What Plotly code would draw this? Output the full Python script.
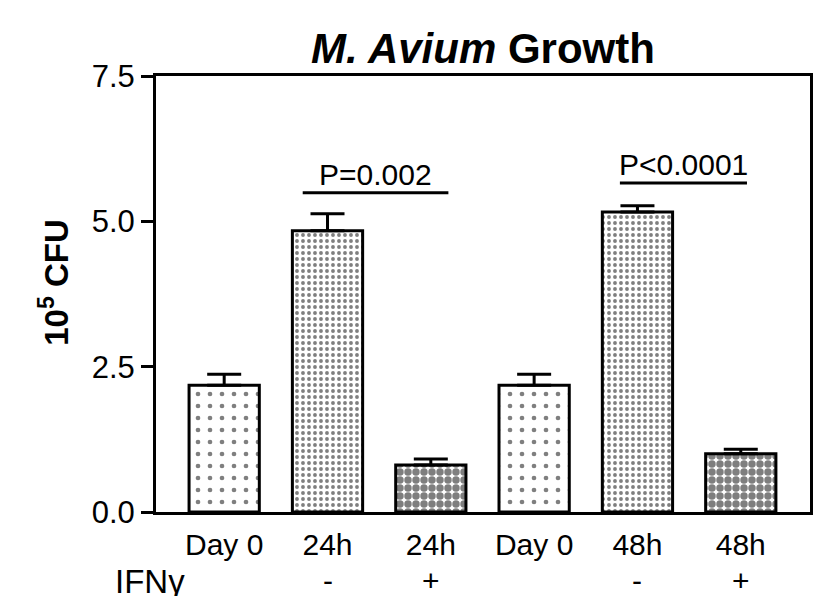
import plotly.graph_objects as go

# ---- data ----
x_pos = [0, 1, 2, 3, 4, 5]
tick_labels = ["Day 0", "24h", "24h", "Day 0", "48h", "48h"]
ifn_labels = ["", "-", "+", "", "-", "+"]
means = [2.18, 4.84, 0.81, 2.18, 5.16, 1.00]
sem = [0.19, 0.29, 0.10, 0.19, 0.11, 0.08]

sig_x0 = [0.76, 3.83]
sig_x1 = [2.17, 5.06]
sig_y = [5.49, 5.66]
sig_text = ["P=0.002", "P<0.0001"]

y_ticks = [0.0, 2.5, 5.0, 7.5]

FONT = "Arial, Liberation Sans, sans-serif"

pattern_shape = [".", ".", ".", ".", ".", "."]
pattern_size = [12, 6, 8, 12, 6, 8]
pattern_solid = [0.12, 0.32, 0.68, 0.12, 0.32, 0.68]

fig = go.Figure()
fig.add_trace(go.Bar(
    x=x_pos, y=means, width=0.68,
    marker=dict(color="white", line=dict(color="black", width=3),
                pattern=dict(shape=pattern_shape, size=pattern_size,
                             solidity=pattern_solid, fgcolor="black",
                             bgcolor="white")),
    error_y=dict(type="data", symmetric=False, array=sem,
                 arrayminus=[0] * len(sem), color="black",
                 thickness=3, width=17),
    showlegend=False, hoverinfo="skip",
))

shapes = []
annotations = []
for x0, x1, yv, t in zip(sig_x0, sig_x1, sig_y, sig_text):
    shapes.append(dict(type="line", xref="x", yref="y", x0=x0, x1=x1,
                       y0=yv, y1=yv, line=dict(color="black", width=3)))
    annotations.append(dict(x=(x0 + x1) / 2, y=yv, xref="x", yref="y",
                            text=t, showarrow=False, yanchor="bottom", yshift=0,
                            font=dict(family=FONT, size=30, color="black")))

for xv, t in zip(x_pos, ifn_labels):
    if t:
        annotations.append(dict(x=xv, y=-0.158, xref="x", yref="paper",
                                text=t, showarrow=False, yanchor="middle",
                                font=dict(family=FONT, size=30, color="black")))

annotations.append(dict(x=-0.066, y=-0.16, xref="paper", yref="paper",
                        text="IFNγ", showarrow=False, yanchor="middle",
                        font=dict(family=FONT, size=33, color="black")))

annotations.append(dict(x=-0.156, y=0.528, xref="paper", yref="paper",
                        text="<b>10<sup>5</sup> CFU</b>", showarrow=False,
                        textangle=-90, xanchor="center", yanchor="middle",
                        font=dict(family=FONT, size=33, color="black")))

fig.update_layout(
    width=839, height=596,
    margin=dict(l=156, r=29, t=76, b=84, autoexpand=False),
    paper_bgcolor="white", plot_bgcolor="white",
    title=dict(text="<b><i>M. Avium</i> Growth</b>", x=483 / 839, xanchor="center",
               y=1 - 48 / 596, yanchor="middle",
               font=dict(family=FONT, size=42, color="black")),
    xaxis=dict(range=[-0.66, 5.67], tickvals=x_pos, ticktext=tick_labels,
               showgrid=False, zeroline=False, showline=True, linecolor="black",
               linewidth=3, mirror=True, ticks="", automargin=False,
               ticklabelstandoff=4,
               tickfont=dict(family=FONT, size=30, color="black")),
    yaxis=dict(range=[0, 7.5], tickvals=y_ticks, ticktext=["0.0", "2.5", "5.0", "7.5"],
               showgrid=False, zeroline=False, showline=True, linecolor="black",
               linewidth=3, mirror=True, ticks="outside", ticklen=12, tickwidth=3,
               tickcolor="black", automargin=False,
               tickfont=dict(family=FONT, size=31, color="black")),
    shapes=shapes, annotations=annotations,
)

fig.write_html("out.html", config={"displayModeBar": False},
               post_script="document.body.style.margin='0';document.body.style.overflow='hidden';")
